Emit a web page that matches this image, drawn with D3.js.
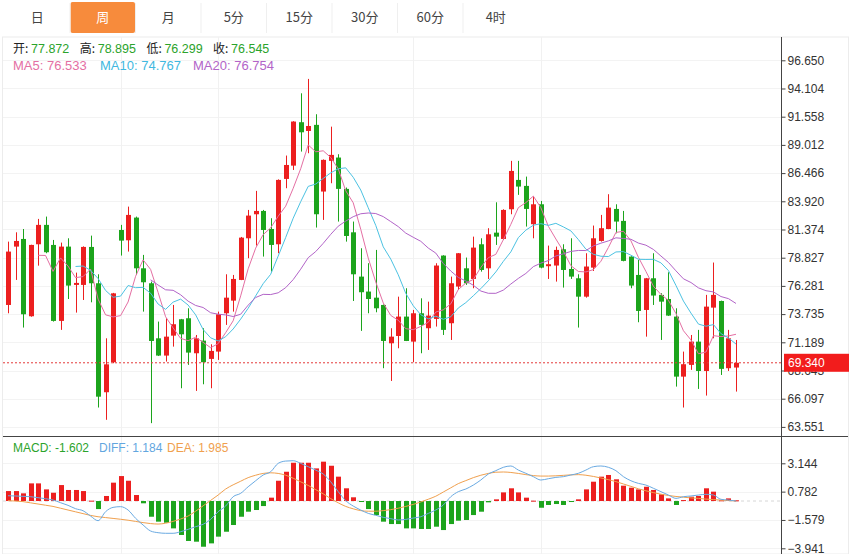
<!DOCTYPE html>
<html>
<head>
<meta charset="utf-8">
<script src="https://cdn.jsdelivr.net/npm/d3@7"></script>
<style>
  body { margin: 0; background: #fff; }
  svg { font-family: "Noto Sans CJK SC", "Noto Sans", sans-serif; }
  .num { font-family: "Liberation Sans", Arial, sans-serif; }
</style>
</head>
<body>
<svg id="chart" width="850" height="554"></svg>
<script>
// weekly candles
var opens  = [74.56,79.83,80.52,73.54,80.04,81.79,79.98,73.12,79.83,76.37,76.37,79.80,76.52,66.68,69.39,81.33,80.40,82.45,77.87,76.52,
              71.55,69.99,71.79,73.27,73.36,70.20,71.34,69.69,70.35,73.81,74.95,76.82,80.58,82.75,83.05,81.42,80.04,85.94,87.14,91.06,
              90.27,90.82,84.80,87.57,87.87,85.04,81.12,77.12,75.77,75.22,74.56,71.10,71.76,73.51,71.25,73.81,72.46,73.30,79.02,72.91,
              76.22,77.87,76.91,80.04,77.87,81.09,80.52,83.20,85.85,85.31,81.85,83.65,78.06,78.12,79.59,77.81,76.97,75.31,77.93,80.34,
              81.42,83.23,82.15,78.93,77.27,74.11,76.97,75.47,75.10,73.51,68.09,69.15,71.25,68.60,74.32,74.92,68.85,68.91];
var highs  = [80.28,81.12,81.42,80.00,82.33,82.54,80.43,80.19,80.58,77.48,79.85,80.82,77.33,71.55,75.65,81.79,83.44,82.54,79.08,76.67,
              73.06,73.36,74.56,73.30,74.26,71.85,72.46,71.01,73.96,77.33,77.27,80.70,83.14,84.86,83.14,82.39,85.90,88.05,91.15,93.67,
              94.97,91.78,87.70,90.66,88.17,85.16,82.09,79.68,78.33,79.53,74.60,72.46,75.31,76.07,74.11,75.16,74.86,78.33,79.05,77.12,
              79.25,78.84,80.73,80.58,81.49,83.83,83.20,87.57,87.57,86.15,84.35,83.95,79.92,79.83,80.04,80.58,77.33,79.23,81.73,82.69,
              84.56,83.65,83.05,78.95,78.63,77.00,79.23,75.62,77.51,74.26,70.35,71.85,72.31,75.47,78.39,74.95,72.31,71.40];
var lows   = [73.81,76.82,72.52,73.50,78.11,79.23,73.06,72.31,75.10,73.87,75.01,74.80,65.30,64.19,69.30,79.02,79.38,77.27,73.96,63.89,
              69.95,69.45,70.80,67.04,69.15,66.80,67.40,67.04,69.60,72.76,73.96,76.80,78.78,79.92,78.93,77.57,79.23,85.10,86.75,88.41,
              88.26,81.55,82.24,85.55,82.09,80.28,74.92,72.22,73.81,73.90,68.85,67.70,70.65,71.30,69.39,70.20,70.50,72.61,71.85,71.40,
              75.92,76.37,76.07,77.57,76.91,79.98,80.43,82.75,84.50,81.64,80.58,77.87,76.91,76.67,76.13,76.91,72.52,75.22,77.63,80.28,
              81.40,81.03,78.50,76.07,73.00,71.70,74.56,71.40,73.57,67.19,65.30,68.70,66.98,66.38,71.55,68.24,68.60,66.74];
var closes = [79.38,80.34,73.72,79.98,81.79,79.32,73.12,79.83,76.31,76.55,79.80,76.52,66.28,69.20,75.61,80.37,82.69,77.87,76.61,71.31,
              69.99,71.70,72.82,71.91,70.26,71.55,69.39,70.41,73.72,75.22,76.91,80.64,82.63,83.05,81.33,79.98,85.85,87.20,91.12,90.15,
              90.72,82.75,87.66,88.11,85.04,80.79,77.33,75.71,75.10,74.26,71.31,71.70,73.51,71.31,73.81,72.76,73.60,78.12,72.31,76.52,
              79.23,76.52,79.74,77.72,80.94,80.73,83.14,86.66,85.25,83.23,83.65,77.93,78.24,79.53,77.72,77.12,75.31,78.03,80.58,81.49,
              83.35,82.09,78.54,76.31,74.02,76.97,75.41,74.86,73.60,68.09,69.21,71.25,68.60,74.41,75.47,68.79,71.55,69.34];

// MACD panel
var macdBars = [0.83,0.83,0.64,1.47,1.47,0.97,0.69,1.33,0.92,0.92,0.83,0.03,-0.67,0.42,1.53,2.08,1.69,0.50,-0.19,-1.31,
                -1.72,-1.81,-2.28,-2.83,-3.33,-3.39,-3.81,-3.53,-2.97,-2.56,-2.00,-1.31,-0.89,-0.75,-0.42,0.28,1.69,2.44,3.19,3.19,
                3.19,2.72,3.28,2.94,2.03,1.06,0.31,-0.03,-0.67,-1.17,-1.72,-1.92,-1.92,-2.28,-2.28,-2.33,-2.33,-2.14,-2.42,-1.92,
                -1.64,-1.58,-1.17,-0.89,-0.11,0.14,0.72,1.06,0.72,0.28,0.03,-0.56,-0.33,-0.25,-0.33,-0.08,0.14,0.97,1.61,2.03,
                2.17,1.81,1.28,1.11,0.97,1.19,0.92,0.56,0.22,-0.33,0.08,0.36,0.42,1.06,0.78,0.06,0.22,0.06];
var diffLine = [0.44,0.42,0.39,0.36,0.28,0.19,0.08,-0.14,-0.36,-0.64,-0.81,-1.25,-1.64,-0.89,-0.53,-0.47,-0.75,-1.44,-2.00,-2.50,
                -2.64,-2.69,-2.69,-2.56,-2.36,-2.14,-1.94,-1.53,-0.89,-0.42,0.36,0.64,1.19,1.69,2.17,2.44,3.14,3.33,3.36,3.14,
                2.86,2.58,2.25,1.61,0.78,0.03,-0.42,-0.75,-1.03,-1.19,-1.36,-1.47,-1.58,-1.53,-1.42,-1.31,-1.03,-0.75,-0.33,0.36,
                0.78,1.00,1.33,1.75,2.25,2.53,2.81,2.92,2.58,2.31,2.03,1.75,1.86,1.97,2.03,2.17,2.31,2.58,2.86,2.92,
                2.81,2.53,2.03,1.69,1.47,1.33,1.06,0.78,0.50,0.22,0.36,0.42,0.50,0.56,0.50,0.14,0.08,0.00];
var deaLine  = [0.03,0.00,-0.05,-0.15,-0.25,-0.35,-0.45,-0.60,-0.75,-0.90,-1.05,-1.20,-1.31,-1.38,-1.45,-1.52,-1.60,-1.70,-1.80,-1.88,
                -1.92,-1.85,-1.70,-1.50,-1.25,-0.85,-0.40,0.05,0.50,1.00,1.35,1.65,1.95,2.15,2.30,2.35,2.30,2.15,1.90,1.60,
                1.30,0.95,0.60,0.20,-0.15,-0.45,-0.65,-0.80,-0.85,-0.85,-0.80,-0.72,-0.60,-0.45,-0.28,-0.08,0.15,0.40,0.75,1.10,
                1.45,1.70,1.95,2.15,2.30,2.40,2.42,2.38,2.30,2.20,2.12,2.08,2.08,2.10,2.14,2.18,2.20,2.15,2.05,1.92,
                1.78,1.62,1.42,1.22,1.02,0.85,0.70,0.57,0.46,0.38,0.32,0.26,0.22,0.16,0.12,0.08,0.04,0.00];

var tabs = ["日", "周", "月", "5分", "15分", "30分", "60分", "4时"];
var activeTab = "周";
var priceTicks = [96.650, 94.104, 91.558, 89.012, 86.466, 83.920, 81.374, 78.827, 76.281, 73.735, 71.189, 68.643, 66.097, 63.551];
var macdTicks = [3.144, 0.782, -1.579, -3.941];
var lastPrice = 69.340;
var gridIdx = [15, 28, 54, 71];

var ohlcInfo = [["开:", "77.872"], ["高:", "78.895"], ["低:", "76.299"], ["收:", "76.545"]];
var maInfo = [["MA5: 76.533", "#e46fa3"], ["MA10: 74.767", "#3fb8e0"], ["MA20: 76.754", "#b264c8"]];
var macdInfo = [["MACD: -1.602", "#2ba32b"], ["DIFF: 1.184", "#62a6df"], ["DEA: 1.985", "#f0a04e"]];

var UP = "#ec1f1f", DOWN = "#1ca41c";

// moving averages of the closes
function ma(n) {
  return closes.map(function(c, i) {
    if (i < n - 1) return null;
    return d3.mean(closes.slice(i - n + 1, i + 1));
  });
}
var ma5 = ma(5), ma10 = ma(10), ma20 = ma(20);

var svg = d3.select("#chart");
var axisX = 781, left = 3, right = 848;
var mainTop = 37, mainBot = 436, macdBot = 554;

var x = d3.scaleBand().domain(d3.range(closes.length))
  .range([4.25, 4.25 + 7.505 * closes.length]).paddingInner(0.34).paddingOuter(0.17);
var cx = function(i) { return x(i) + x.bandwidth() / 2; };
var y = d3.scaleLinear().domain([63.551, 96.650]).range([426.9, 60.3]);
var ym = d3.scaleLinear().domain([-3.941, 3.144]).range([548.3, 463.3]);

// tabs
var tabW = 65.5;
var tabG = svg.append("g");
tabs.forEach(function(t, i) {
  var tx = 4.5 + i * tabW;
  if (t === activeTab) {
    tabG.append("rect").attr("x", tx + 0.5).attr("y", 2).attr("width", tabW - 1).attr("height", 31)
      .attr("rx", 2).attr("fill", "#f78b3c");
  }
  if (i > 0) {
    tabG.append("line").attr("x1", tx).attr("x2", tx).attr("y1", 3).attr("y2", 33).attr("stroke", "#efefef");
  }
  tabG.append("text").attr("x", tx + tabW / 2).attr("y", 22).attr("text-anchor", "middle")
    .attr("font-size", 13).attr("fill", t === activeTab ? "#fff" : "#444").text(t);
});

// frame + grid
var grid = svg.append("g");
grid.append("rect").attr("x", left - 0.5).attr("y", mainTop).attr("width", right - left + 1)
  .attr("height", macdBot - mainTop).attr("fill", "none").attr("stroke", "#ececec");
grid.selectAll(".hg").data(priceTicks).enter().append("line")
  .attr("x1", left).attr("x2", axisX).attr("y1", function(d) { return Math.round(y(d)) + 0.5; })
  .attr("y2", function(d) { return Math.round(y(d)) + 0.5; }).attr("stroke", "#f3f3f3");
grid.selectAll(".hm").data(macdTicks).enter().append("line")
  .attr("x1", left).attr("x2", axisX).attr("y1", function(d) { return Math.round(ym(d)) + 0.5; })
  .attr("y2", function(d) { return Math.round(ym(d)) + 0.5; }).attr("stroke", "#f3f3f3");
grid.selectAll(".vg").data(gridIdx).enter().append("line")
  .attr("x1", function(d) { return Math.round(cx(d)) + 0.5; }).attr("x2", function(d) { return Math.round(cx(d)) + 0.5; })
  .attr("y1", mainTop).attr("y2", macdBot).attr("stroke", "#f1f1f1");

// info rows
ohlcInfo.forEach(function(p, i) {
  var px = 13 + i * 66.7;
  svg.append("text").attr("x", px).attr("y", 53).attr("font-size", 12).attr("fill", "#222").text(p[0]);
  svg.append("text").attr("class", "num").attr("x", px + 18).attr("y", 53).attr("font-size", 12.5)
    .attr("fill", "#2ba32b").text(p[1]);
});
[13, 100, 193].forEach(function(px, i) {
  svg.append("text").attr("class", "num").attr("x", px).attr("y", 70).attr("font-size", 13)
    .attr("fill", maInfo[i][1]).text(maInfo[i][0]);
});
[13, 99, 167].forEach(function(px, i) {
  svg.append("text").attr("class", "num").attr("x", px).attr("y", 452).attr("font-size", 12)
    .attr("fill", macdInfo[i][1]).text(macdInfo[i][0]);
});

// candles
var plot = svg.append("g");
var idx = d3.range(closes.length);
var col = function(i) { return closes[i] >= opens[i] ? UP : DOWN; };
plot.selectAll(".wick").data(idx).enter().append("line")
  .attr("x1", function(i) { return Math.round(cx(i)) + 0.5; })
  .attr("x2", function(i) { return Math.round(cx(i)) + 0.5; })
  .attr("y1", function(i) { return y(highs[i]); })
  .attr("y2", function(i) { return y(lows[i]); })
  .attr("stroke", col).attr("stroke-width", 1);
plot.selectAll(".body").data(idx).enter().append("rect")
  .attr("x", function(i) { return Math.round(cx(i)) + 0.5 - 2.5; })
  .attr("width", 5)
  .attr("y", function(i) { return y(Math.max(opens[i], closes[i])); })
  .attr("height", function(i) { return Math.max(1, Math.abs(y(opens[i]) - y(closes[i]))); })
  .attr("fill", col);

// MA lines
var maLine = d3.line().defined(function(d) { return d != null; })
  .x(function(d, i) { return cx(i); }).y(function(d) { return y(d); });
[[ma5, "#e46fa3"], [ma10, "#4cc2e2"], [ma20, "#b264c8"]].forEach(function(s) {
  plot.append("path").datum(s[0]).attr("d", maLine).attr("fill", "none").attr("stroke", s[1]).attr("stroke-width", 1);
});

// last price line
svg.append("line").attr("x1", left).attr("x2", axisX).attr("y1", y(lastPrice)).attr("y2", y(lastPrice))
  .attr("stroke", "#e43a3a").attr("stroke-dasharray", "2,2");

// MACD histogram + lines
var mg = svg.append("g");
mg.append("line").attr("x1", left).attr("x2", axisX).attr("y1", ym(0)).attr("y2", ym(0))
  .attr("stroke", "#d6d6d6").attr("stroke-dasharray", "3,3");
mg.selectAll("rect").data(idx).enter().append("rect")
  .attr("x", function(i) { return Math.round(cx(i)) + 0.5 - 2.5; })
  .attr("width", 5)
  .attr("y", function(i) { return Math.min(ym(0), ym(macdBars[i])); })
  .attr("height", function(i) { return Math.max(1, Math.abs(ym(macdBars[i]) - ym(0))); })
  .attr("fill", function(i) { return macdBars[i] >= 0 ? UP : DOWN; });
var mLine = d3.line().curve(d3.curveMonotoneX).x(function(d, i) { return cx(i); }).y(function(d) { return ym(d); });
mg.append("path").datum(deaLine).attr("d", mLine).attr("fill", "none").attr("stroke", "#f0a04e").attr("stroke-width", 1);
mg.append("path").datum(diffLine).attr("d", mLine).attr("fill", "none").attr("stroke", "#6aaae2").attr("stroke-width", 1);

// panel separator + right axes
svg.append("line").attr("x1", left).attr("x2", right).attr("y1", mainBot + 0.5).attr("y2", mainBot + 0.5)
  .attr("stroke", "#444").attr("stroke-width", 1.2);
svg.append("line").attr("x1", axisX + 0.5).attr("x2", axisX + 0.5).attr("y1", mainTop).attr("y2", macdBot)
  .attr("stroke", "#444");

function styleAxis(g) {
  g.select(".domain").remove();
  g.selectAll("text").attr("font-size", 12).attr("fill", "#333").attr("x", 6)
    .attr("font-family", "'Liberation Sans', Arial, sans-serif");
  g.selectAll("line").attr("stroke", "#444");
}
svg.append("g").attr("transform", "translate(" + (axisX + 0.5) + ",0)")
  .call(d3.axisRight(y).tickValues(priceTicks).tickSize(4).tickFormat(d3.format(".3f"))).call(styleAxis);
svg.append("g").attr("transform", "translate(" + (axisX + 0.5) + ",0)")
  .call(d3.axisRight(ym).tickValues(macdTicks).tickSize(4).tickFormat(d3.format(".3f"))).call(styleAxis);

// current price tag
var tag = svg.append("g").attr("transform", "translate(" + (axisX + 3) + "," + (y(lastPrice) - 9) + ")");
tag.append("rect").attr("width", right - axisX - 2).attr("height", 18).attr("fill", "#f21c1c");
tag.append("text").attr("x", 4).attr("y", 13.5).attr("font-size", 12).attr("fill", "#fff")
  .attr("font-family", "'Liberation Sans', Arial, sans-serif").text(lastPrice.toFixed(3));
</script>
</body>
</html>
